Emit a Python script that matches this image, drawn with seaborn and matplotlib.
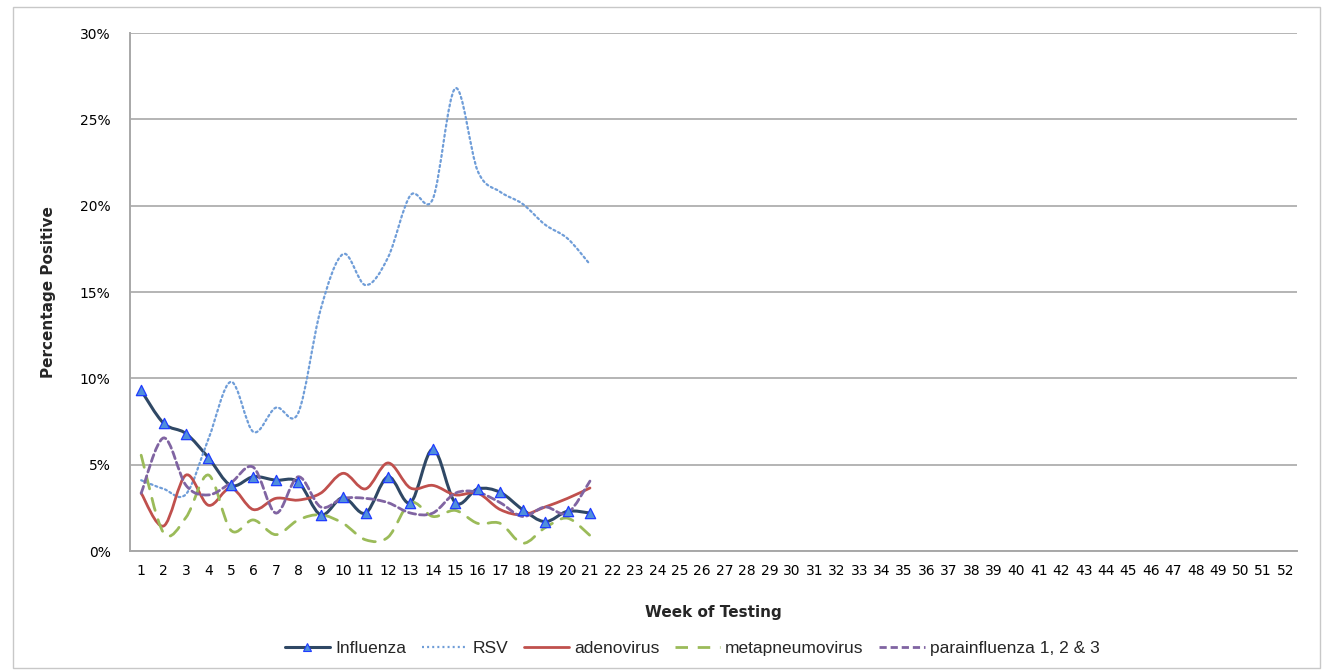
import numpy as np
import pandas as pd
import matplotlib
matplotlib.use("Agg")
import matplotlib.pyplot as plt
import seaborn as sns
from matplotlib.path import Path
from matplotlib.patches import PathPatch, Rectangle
from matplotlib.lines import Line2D
from matplotlib.ticker import PercentFormatter, FixedLocator

# ---------------- data ----------------
weeks = list(range(1, 22))
all_weeks = list(range(1, 53))
influenza = [9.3, 7.4, 6.8, 5.4, 3.8, 4.3, 4.1, 4.0, 2.1, 3.1, 2.2, 4.3, 2.8, 5.9,
             2.8, 3.6, 3.4, 2.4, 1.7, 2.3, 2.2]
rsv = [4.1, 3.6, 3.3, 6.5, 9.8, 6.9, 8.3, 8.0, 14.0, 17.2, 15.4, 17.0, 20.6, 20.4,
       26.8, 22.0, 20.8, 20.1, 18.9, 18.1, 16.6]
adenovirus = [3.35, 1.45, 4.4, 2.65, 3.65, 2.4, 3.05, 2.95, 3.35, 4.5, 3.6, 5.1,
              3.65, 3.8, 3.25, 3.35, 2.4, 2.1, 2.55, 3.05, 3.65]
metapneumovirus = [5.55, 1.05, 1.95, 4.4, 1.2, 1.8, 0.95, 1.8, 2.1, 1.6, 0.65, 0.8,
                   2.8, 2.0, 2.35, 1.6, 1.6, 0.45, 1.35, 1.9, 0.9]
parainfluenza = [3.35, 6.55, 3.8, 3.25, 3.95, 4.85, 2.2, 4.3, 2.55, 3.05, 3.05, 2.8,
                 2.2, 2.2, 3.35, 3.4, 2.8, 2.0, 2.55, 2.2, 4.05]
series_names = ["Influenza", "RSV", "adenovirus", "metapneumovirus",
                "parainfluenza 1, 2 & 3"]
y_ticks = [0, 5, 10, 15, 20, 25, 30]

series_values = [influenza, rsv, adenovirus, metapneumovirus, parainfluenza]

# ---------------- styles ----------------
colors = ["#2f4865", "#6f9dd8", "#c0504d", "#9bbb59", "#8064a2"]
widths = [2.2, 1.6, 2.0, 2.0, 2.0]
dashes = ["-", (0, (0.9, 1.4)), "-", (0, (4.5, 3.5)), (0, (2.6, 1.4))]

sns.set_style("white")
plt.rcParams["font.family"] = ["DejaVu Sans"]

fig = plt.figure(figsize=(13.26, 6.71), dpi=100)
ax = fig.add_axes([0.098, 0.1788, 0.880, 0.772])

# outer chart border
fig.patches.append(Rectangle((0.0098, 0.004), 0.986, 0.986, transform=fig.transFigure,
                             fill=False, edgecolor="#c8c8c8", linewidth=1.0))


def smooth_path(x, y):
    pts = np.column_stack([np.asarray(x, float), np.asarray(y, float) / 100.0])
    n = len(pts)
    verts = [pts[0]]
    codes = [Path.MOVETO]
    for i in range(n - 1):
        p0 = pts[i - 1] if i > 0 else pts[i]
        p1 = pts[i]
        p2 = pts[i + 1]
        p3 = pts[i + 2] if i + 2 < n else pts[i + 1]
        verts += [p1 + (p2 - p0) / 6.0, p2 - (p3 - p1) / 6.0, p2]
        codes += [Path.CURVE4] * 3
    return Path(verts, codes)


for name, vals, c, w, ls in zip(series_names, series_values, colors, widths, dashes):
    patch = PathPatch(smooth_path(weeks, vals), fill=False, edgecolor=c,
                      linewidth=w, linestyle=ls, capstyle="round", zorder=3)
    ax.add_patch(patch)

df_flu = pd.DataFrame({"week": weeks, "pct": np.array(influenza) / 100.0})
sns.scatterplot(data=df_flu, x="week", y="pct", marker="^", s=55,
                color="#4f8fdc", edgecolor="#1f3cff", linewidth=0.9, ax=ax,
                zorder=5, legend=False)

# axes
ax.set_xlim(0.5, 52.5)
ax.set_ylim(0, 0.30)
ax.set_yticks([v / 100 for v in y_ticks])
ax.yaxis.set_major_formatter(PercentFormatter(1.0, decimals=0))
ax.set_xticks(all_weeks)
ax.set_xticklabels([str(w) for w in all_weeks])
ax.xaxis.set_minor_locator(FixedLocator([w + 0.5 for w in [0] + all_weeks]))
ax.tick_params(axis="x", which="major", length=0, pad=9, labelsize=10,
               labelcolor="#000000")
ax.tick_params(axis="x", which="minor", length=5, width=1.2, color="#a8a8a8",
               direction="out")
ax.tick_params(axis="y", length=0, pad=14, labelsize=10, labelcolor="#000000")
ax.grid(axis="y", color="#b4b4b4", linewidth=1.4)
ax.set_axisbelow(True)
for s in ["top", "right"]:
    ax.spines[s].set_visible(False)
for s in ["left", "bottom"]:
    ax.spines[s].set_color("#a8a8a8")
    ax.spines[s].set_linewidth(1.4)
ax.set_xlabel("Week of Testing", fontsize=11, fontweight="bold", labelpad=20)
ax.set_ylabel("Percentage Positive", fontsize=11, fontweight="bold", labelpad=17)

handles = []
for i, (name, c, w, ls) in enumerate(zip(series_names, colors, widths, dashes)):
    if i == 0:
        h = Line2D([], [], color=c, linewidth=w, linestyle=ls, marker="^",
                   markersize=6, markerfacecolor="#4f8fdc",
                   markeredgecolor="#1f3cff", markeredgewidth=0.8)
    else:
        h = Line2D([], [], color=c, linewidth=w, linestyle=ls)
    handles.append(h)
fig.legend(handles, series_names, loc="center", bbox_to_anchor=(0.522, 0.034),
           ncol=5, frameon=False, handlelength=2.6,
           handletextpad=0.3, columnspacing=0.9,
           prop={"family": "Liberation Sans", "size": 12.5})

fig.savefig("out.png", dpi=100)
